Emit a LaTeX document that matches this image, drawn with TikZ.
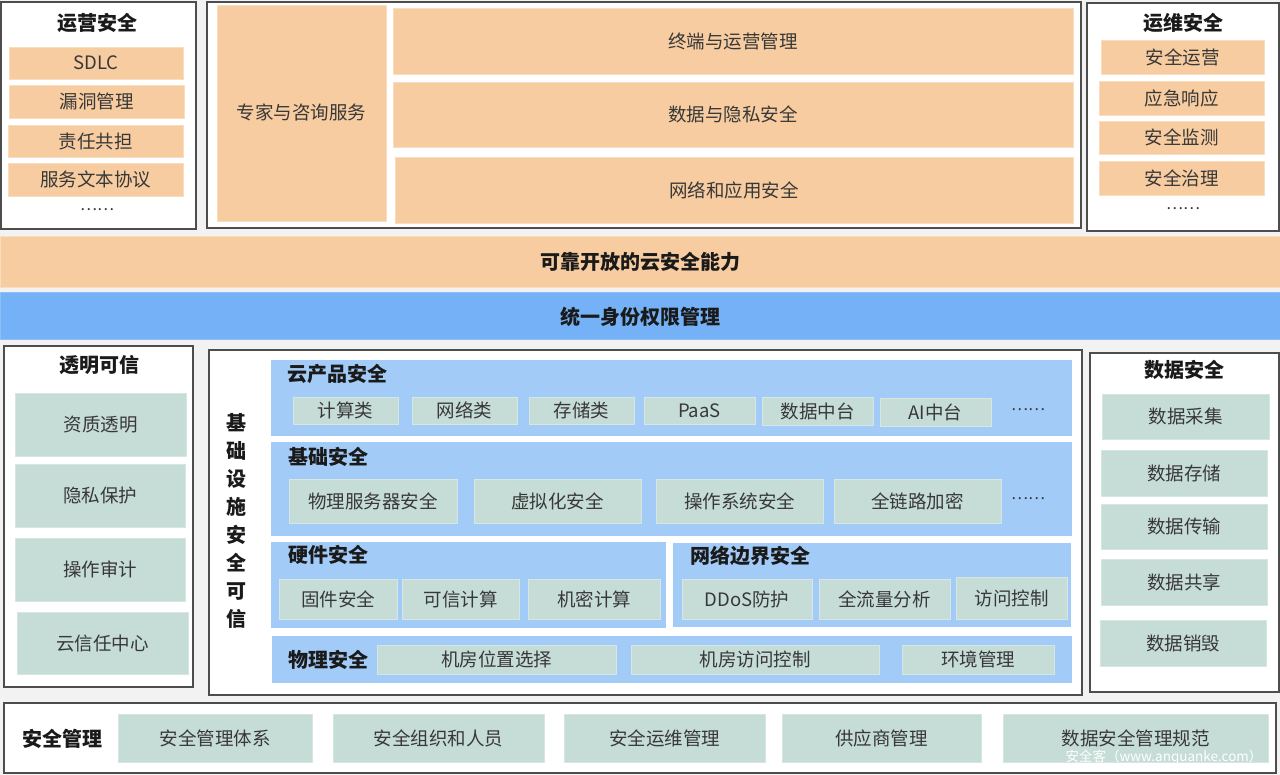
\documentclass[tikz,border=0pt]{standalone}
\usepackage{fontspec}
\setmainfont{Noto Sans CJK SC}
\definecolor{bgc}{HTML}{F2F2F2}
\definecolor{framec}{HTML}{4D4D4D}
\definecolor{orng}{HTML}{F7CCA0}
\definecolor{orngb}{HTML}{FADDBF}
\definecolor{lblue}{HTML}{A3CBF7}
\definecolor{bblue}{HTML}{74B1F6}
\definecolor{bblueb}{HTML}{8EC0F8}
\definecolor{grn}{HTML}{C6DCD6}
\definecolor{grnb}{HTML}{D6E6E2}
\definecolor{txt}{HTML}{383838}
\definecolor{ttlc}{HTML}{1A1A1A}
\newcommand\itemfont{\fontsize{18.5}{22}\selectfont}
\newcommand\ttlfont{\fontsize{20}{24}\selectfont\bfseries}
\newcommand\bx[7]{%
  \pgfmathsetmacro\bxw{#5-#3}%
  \pgfmathsetmacro\bxh{#6-#4}%
  \node[#2, minimum width=\bxw pt, minimum height=\bxh pt] (#1) at ({(#3+#5)/2},{(#4+#6)/2}) {#7};}
\tikzset{
  frame/.style={draw=framec, line width=1.5pt, fill=white, inner sep=0pt, outer sep=0pt},
  orbox/.style={fill=orng, draw=orngb, line width=0.8pt, inner sep=0pt, outer sep=0pt, text=txt, font=\itemfont},
  gnbox/.style={fill=grn, draw=grnb, line width=0.8pt, inner sep=0pt, outer sep=0pt, text=txt, font=\itemfont},
  panel/.style={fill=lblue, draw=none, inner sep=0pt, outer sep=0pt},
  orband/.style={fill=orng, draw=orngb, line width=0.8pt, inner sep=0pt, outer sep=0pt, text=ttlc, font=\ttlfont},
  blband/.style={fill=bblue, draw=bblueb, line width=1pt, inner sep=0pt, outer sep=0pt, text=ttlc, font=\ttlfont},
  ttl/.style={text=ttlc, font=\ttlfont, inner sep=0pt},
  pttl/.style={text=ttlc, font=\ttlfont, inner sep=0pt, anchor=west},
  dotsn/.style={text=txt, font=\fontsize{16}{18}\selectfont, inner sep=0pt},
}
\begin{document}
\begin{tikzpicture}[x=1pt,y=-1pt]
\useasboundingbox (0,0) rectangle (1280,775);
\fill[bgc] (0,0) rectangle (1280,775);

% top-left
\bx{yy}{frame}{1}{2}{196}{229}{}
\node[ttl] (yyT) at (97,23) {运营安全};
\bx{yy1}{orbox}{9}{47}{183}{79}{SDLC}
\bx{yy2}{orbox}{9}{85}{184}{118}{漏洞管理}
\bx{yy3}{orbox}{8}{125}{183}{157}{责任共担}
\bx{yy4}{orbox}{8}{163}{183}{196}{服务文本协议}
\node[dotsn] (yy5) at (97,210) {……};

% top-middle
\bx{tm}{frame}{207}{2}{1081}{228}{}
\bx{zj}{orbox}{217}{5}{386}{221}{专家与咨询服务}
\bx{zd}{orbox}{393}{8}{1073}{74}{终端与运营管理}
\bx{sj}{orbox}{393}{82}{1073}{147}{数据与隐私安全}
\bx{wl}{orbox}{395}{157}{1073}{223}{网络和应用安全}

% top-right
\bx{yw}{frame}{1087}{3}{1279}{231}{}
\node[ttl] (ywT) at (1183,23) {运维安全};
\bx{yw1}{orbox}{1101}{40}{1264}{74}{安全运营}
\bx{yw2}{orbox}{1099}{81}{1264}{115}{应急响应}
\bx{yw3}{orbox}{1099}{121}{1264}{154}{安全监测}
\bx{yw4}{orbox}{1099}{161}{1264}{195}{安全治理}
\node[dotsn] (yw5) at (1183,209) {……};

% bands
\bx{band1}{orband}{0}{236}{1280}{287}{可靠开放的云安全能力}
\bx{band2}{blband}{0}{293}{1280}{340}{统一身份权限管理}

% left box
\bx{tk}{frame}{4}{346}{193}{687}{}
\node[ttl] (tkT) at (99,365) {透明可信};
\bx{tk1}{gnbox}{15}{393}{186}{456}{资质透明}
\bx{tk2}{gnbox}{15}{464}{185}{527}{隐私保护}
\bx{tk3}{gnbox}{15}{538}{185}{601}{操作审计}
\bx{tk4}{gnbox}{17}{612}{188}{674}{云信任中心}

% middle box
\bx{jc}{frame}{209}{350}{1082}{695}{}
\node[text=ttlc, font=\fontsize{20}{28}\selectfont\bfseries, align=center, inner sep=0pt] (jcT) at (236,521) {基\\础\\设\\施\\安\\全\\可\\信};

\bx{p1}{panel}{271}{360}{1072}{436}{}
\node[pttl] (p1T) at (287,374) {云产品安全};
\bx{p1a}{gnbox}{293}{397}{398}{424}{计算类}
\bx{p1b}{gnbox}{412}{397}{517}{424}{网络类}
\bx{p1c}{gnbox}{529}{397}{634}{424}{存储类}
\bx{p1d}{gnbox}{644}{397}{755}{424}{PaaS}
\bx{p1e}{gnbox}{762}{397}{873}{425}{数据中台}
\bx{p1f}{gnbox}{880}{398}{991}{426}{AI中台}
\node[dotsn] (p1g) at (1028,410) {……};

\bx{p2}{panel}{271}{442}{1072}{536}{}
\node[pttl] (p2T) at (288,457) {基础安全};
\bx{p2a}{gnbox}{289}{479}{457}{523}{物理服务器安全}
\bx{p2b}{gnbox}{474}{479}{641}{523}{虚拟化安全}
\bx{p2c}{gnbox}{656}{479}{823}{523}{操作系统安全}
\bx{p2d}{gnbox}{834}{479}{1001}{523}{全链路加密}
\node[dotsn] (p2e) at (1028,499) {……};

\bx{p3}{panel}{271}{542}{666}{628}{}
\node[pttl] (p3T) at (288,555) {硬件安全};
\bx{p3a}{gnbox}{279}{579}{397}{619}{固件安全}
\bx{p3b}{gnbox}{402}{579}{519}{619}{可信计算}
\bx{p3c}{gnbox}{528}{579}{660}{619}{机密计算}

\bx{p4}{panel}{673}{543}{1071}{627}{}
\node[pttl] (p4T) at (690,556) {网络边界安全};
\bx{p4a}{gnbox}{682}{579}{812}{619}{DDoS防护}
\bx{p4b}{gnbox}{819}{579}{950}{619}{全流量分析}
\bx{p4c}{gnbox}{956}{577}{1067}{619}{访问控制}

\bx{p5}{panel}{272}{636}{1072}{683}{}
\node[pttl] (p5T) at (288,660) {物理安全};
\bx{p5a}{gnbox}{377}{645}{616}{674}{机房位置选择}
\bx{p5b}{gnbox}{631}{645}{879}{674}{机房访问控制}
\bx{p5c}{gnbox}{902}{645}{1054}{674}{环境管理}

% right box
\bx{sa}{frame}{1090}{353}{1279}{692}{}
\node[ttl] (saT) at (1184,370) {数据安全};
\bx{sa1}{gnbox}{1102}{394}{1269}{439}{数据采集}
\bx{sa2}{gnbox}{1101}{450}{1267}{496}{数据存储}
\bx{sa3}{gnbox}{1101}{504}{1267}{549}{数据传输}
\bx{sa4}{gnbox}{1101}{559}{1267}{605}{数据共享}
\bx{sa5}{gnbox}{1100}{620}{1266}{666}{数据销毁}

% bottom
\bx{gl}{frame}{4}{703}{1276}{773}{}
\node[ttl] (glT) at (62,739) {安全管理};
\bx{gl1}{gnbox}{118}{714}{312}{762}{安全管理体系}
\bx{gl2}{gnbox}{333}{714}{544}{762}{安全组织和人员}
\bx{gl3}{gnbox}{564}{714}{765}{762}{安全运维管理}
\bx{gl4}{gnbox}{782}{714}{981}{762}{供应商管理}
\bx{gl5}{gnbox}{1003}{714}{1268}{762}{数据安全管理规范}
\node[text=white, font=\fontsize{13.5}{15}\selectfont, inner sep=0pt] (wm) at (1164,757) {安全客（www.anquanke.com）};
\end{tikzpicture}
\end{document}
